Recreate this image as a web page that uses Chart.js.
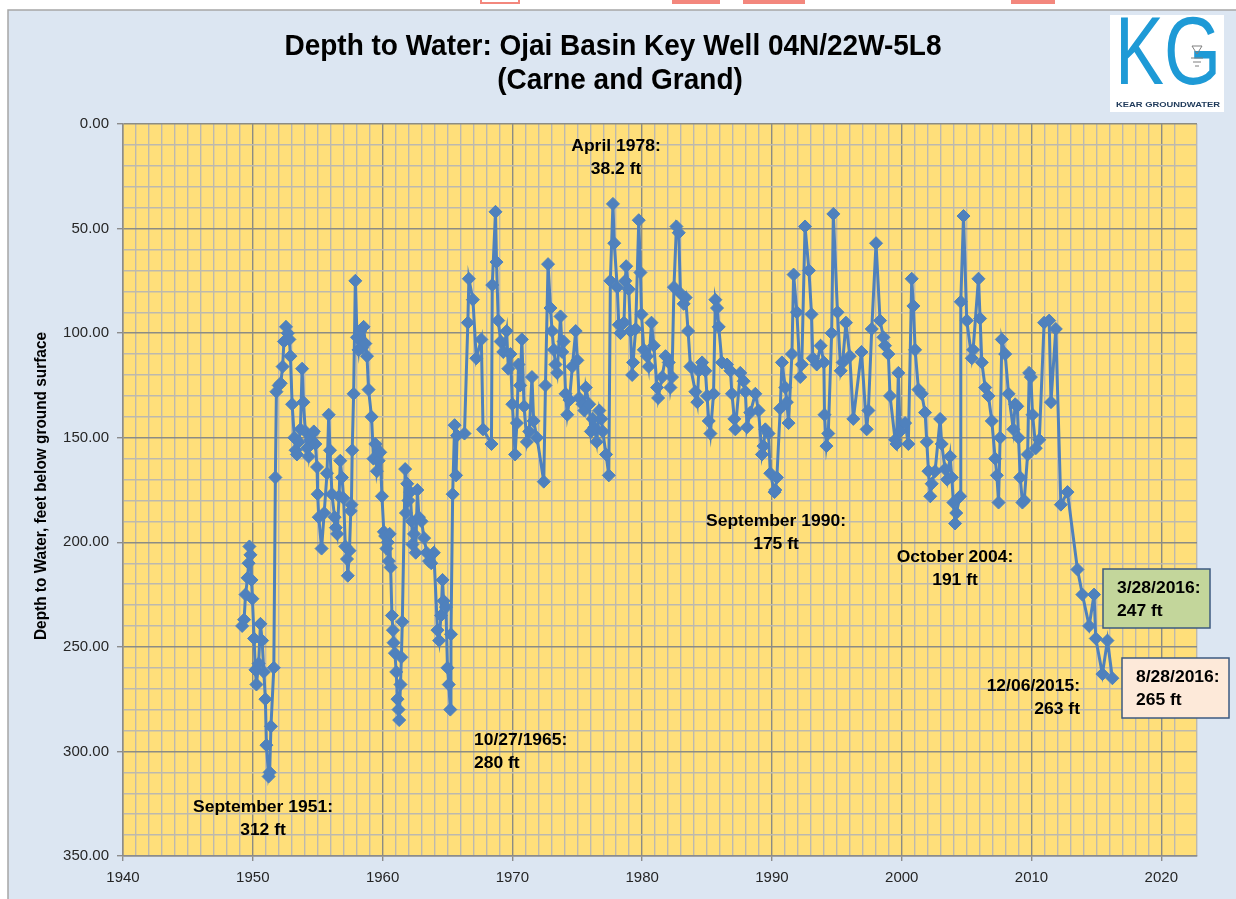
<!DOCTYPE html>
<html>
<head>
<meta charset="utf-8">
<script src="https://cdn.jsdelivr.net/npm/chart.js@4.4.0/dist/chart.umd.min.js"></script>
<style>
  html, body { margin: 0; padding: 0; background: #fff; }
  canvas { display: block; }
</style>
</head>
<body>
<canvas id="wellChart" width="1236" height="899"></canvas>
<script>
// measurement dates (decimal years) and depth to water (ft below ground surface)
const years = [
  1949.18, 1949.33, 1949.44, 1949.6, 1949.68, 1949.74, 1949.82, 1949.9, 1949.97, 1950.1,
  1950.2, 1950.28, 1950.45, 1950.59, 1950.72, 1950.85, 1950.97, 1951.05, 1951.22, 1951.3,
  1951.4, 1951.62, 1951.74, 1951.82, 1952.0, 1952.15, 1952.3, 1952.4, 1952.56, 1952.7,
  1952.82, 1952.9, 1953.03, 1953.2, 1953.3, 1953.4, 1953.55, 1953.67, 1953.8, 1953.9,
  1954.05, 1954.2, 1954.3, 1954.45, 1954.6, 1954.7, 1954.82, 1954.95, 1955.0, 1955.08,
  1955.3, 1955.5, 1955.72, 1955.85, 1955.95, 1956.1, 1956.3, 1956.4, 1956.5, 1956.65,
  1956.74, 1956.87, 1957.0, 1957.13, 1957.26, 1957.32, 1957.45, 1957.55, 1957.6, 1957.66,
  1957.77, 1957.9, 1958.03, 1958.15, 1958.28, 1958.42, 1958.54, 1958.67, 1958.8, 1958.92,
  1959.15, 1959.3, 1959.44, 1959.56, 1959.7, 1959.82, 1959.95, 1960.1, 1960.2, 1960.3,
  1960.4, 1960.48, 1960.55, 1960.62, 1960.72, 1960.8, 1960.85, 1960.95, 1961.05, 1961.15,
  1961.23, 1961.28, 1961.38, 1961.45, 1961.52, 1961.74, 1961.8, 1961.9, 1962.0, 1962.13,
  1962.25, 1962.3, 1962.42, 1962.55, 1962.68, 1962.8, 1963.0, 1963.2, 1963.4, 1963.58,
  1963.75, 1963.95, 1964.23, 1964.36, 1964.5, 1964.62, 1964.7, 1964.88, 1965.0, 1965.1,
  1965.22, 1965.27, 1965.4, 1965.55, 1965.66, 1965.74, 1966.31, 1966.57, 1966.65, 1966.96,
  1967.22, 1967.61, 1967.74, 1968.39, 1968.45, 1968.7, 1968.78, 1968.91, 1969.1, 1969.3,
  1969.56, 1969.69, 1969.85, 1970.0, 1970.21, 1970.35, 1970.47, 1970.6, 1970.73, 1970.9,
  1971.12, 1971.3, 1971.51, 1971.64, 1971.9, 1972.42, 1972.55, 1972.75, 1972.94, 1973.06,
  1973.2, 1973.32, 1973.45, 1973.71, 1973.84, 1973.95, 1974.1, 1974.23, 1974.4, 1974.62,
  1974.88, 1975.01, 1975.14, 1975.4, 1975.55, 1975.66, 1975.92, 1976.05, 1976.2, 1976.31,
  1976.5, 1976.7, 1976.85, 1976.96, 1977.22, 1977.43, 1977.55, 1977.75, 1977.85, 1978.08,
  1978.2, 1978.33, 1978.6, 1978.7, 1978.77, 1978.97, 1979.1, 1979.23, 1979.3, 1979.5,
  1979.74, 1979.87, 1979.95, 1980.13, 1980.38, 1980.5, 1980.72, 1980.9, 1981.15, 1981.23,
  1981.54, 1981.8, 1982.05, 1982.18, 1982.3, 1982.45, 1982.64, 1982.82, 1982.95, 1983.2,
  1983.35, 1983.54, 1983.72, 1984.1, 1984.25, 1984.36, 1984.62, 1984.87, 1985.0, 1985.13,
  1985.26, 1985.5, 1985.64, 1985.77, 1985.9, 1986.15, 1986.54, 1986.8, 1986.92, 1987.1,
  1987.18, 1987.56, 1987.82, 1987.95, 1988.08, 1988.33, 1988.72, 1988.97, 1989.23, 1989.35,
  1989.49, 1989.74, 1989.87, 1990.2, 1990.26, 1990.38, 1990.64, 1990.77, 1991.03, 1991.15,
  1991.28, 1991.54, 1991.67, 1991.92, 1992.18, 1992.3, 1992.55, 1992.85, 1993.05, 1993.15,
  1993.45, 1993.75, 1994.0, 1994.05, 1994.2, 1994.34, 1994.6, 1994.73, 1995.05, 1995.3,
  1995.45, 1995.7, 1996.0, 1996.27, 1996.9, 1997.3, 1997.43, 1997.69, 1998.02, 1998.33,
  1998.59, 1998.71, 1998.97, 1999.1, 1999.49, 1999.6, 1999.74, 1999.87, 2000.26, 2000.51,
  2000.77, 2000.9, 2001.03, 2001.29, 2001.54, 2001.8, 2001.93, 2002.06, 2002.2, 2002.31,
  2002.57, 2002.96, 2003.08, 2003.34, 2003.5, 2003.73, 2003.86, 2003.98, 2004.11, 2004.2,
  2004.5, 2004.55, 2004.76, 2005.01, 2005.4, 2005.5, 2005.91, 2006.04, 2006.17, 2006.43,
  2006.68, 2006.94, 2007.2, 2007.33, 2007.46, 2007.58, 2007.71, 2007.97, 2008.23, 2008.6,
  2008.74, 2008.9, 2009.0, 2009.13, 2009.3, 2009.44, 2009.7, 2009.82, 2009.95, 2010.08,
  2010.33, 2010.6, 2010.97, 2011.36, 2011.5, 2011.87, 2012.26, 2012.77, 2013.54, 2013.92,
  2014.44, 2014.82, 2014.95, 2015.46, 2015.85, 2016.23
];
const depths = [
  240, 237, 225, 217, 210, 202, 206, 218, 227, 246,
  261, 268, 258, 239, 247, 262, 275, 297, 312, 310,
  288, 260, 169, 128, 125, 124, 116, 104, 97, 100,
  103, 111, 134, 150, 156, 158, 152, 146, 117, 133,
  147, 155, 159, 151, 148, 147, 153, 164, 177, 188,
  203, 186, 167, 139, 156, 177, 188, 193, 196, 178,
  161, 169, 179, 202, 208, 216, 204, 185, 182, 156,
  129, 75, 102, 108, 99, 107, 97, 105, 111, 127,
  140, 160, 153, 166, 161, 157, 178, 195, 197, 203,
  200, 209, 196, 212, 235, 242, 248, 253, 262, 275,
  280, 285, 268, 255, 238, 165, 186, 172, 180, 176,
  190, 201, 196, 205, 175, 188, 190, 198, 205, 209,
  210, 205, 242, 247, 235, 218, 228, 231, 260, 268,
  280, 244, 177, 144, 168, 149, 148, 95, 74, 84,
  112, 103, 146, 153, 77, 42, 66, 94, 104, 109,
  99, 117, 110, 134, 158, 143, 115, 125, 103, 135,
  152, 147, 121, 142, 150, 171, 125, 67, 88, 99,
  108, 115, 119, 92, 109, 104, 129, 139, 132, 116,
  99, 113, 131, 134, 137, 126, 134, 147, 141, 145,
  152, 137, 141, 147, 158, 168, 75, 38.2, 57, 78,
  96, 100, 95, 75, 68, 79, 99, 120, 114, 98,
  46, 71, 91, 108, 111, 116, 95, 106, 126, 131,
  121, 111, 114, 126, 121, 78, 49, 52, 81, 86,
  83, 99, 116, 128, 133, 118, 114, 118, 130, 142,
  148, 129, 84, 88, 97, 114, 115, 118, 129, 141,
  146, 119, 123, 128, 145, 138, 129, 137, 158, 154,
  146, 148, 167, 176, 175, 169, 136, 114, 126, 133,
  143, 110, 72, 90, 121, 115, 49, 70, 91, 112,
  115, 106, 114, 139, 154, 148, 100, 43, 90, 118,
  114, 95, 111, 141, 109, 146, 137, 98, 57, 94,
  102, 106, 110, 130, 151, 153, 119, 147, 143, 153,
  74, 87, 108, 127, 129, 138, 152, 166, 178, 172,
  166, 141, 153, 165, 170, 159, 169, 181, 191, 186,
  178, 85, 44, 94, 112, 108, 74, 93, 114, 126,
  130, 142, 160, 168, 181, 150, 103, 110, 129, 146,
  134, 135, 150, 169, 181, 180, 158, 119, 121, 139,
  155, 151, 95, 94, 133, 98, 182, 176, 213, 225,
  240, 225, 246, 263, 247, 265
];

const xRange = [1940, 2022.75];
const yRange = [0, 350];
const majorX = 10;   // labelled year ticks
const majorY = 50;   // labelled depth ticks

const chartTitle = ['Depth to Water: Ojai Basin Key Well 04N/22W-5L8', '(Carne and Grand)'];
const yTitle = 'Depth to Water, feet below ground surface';

// free text callouts placed on the plot (pixel positions)
const callouts = [
  { lines: ['April 1978:', '38.2 ft'], x: 616, y: 146, align: 'center' },
  { lines: ['September 1990:', '175 ft'], x: 776, y: 521, align: 'center' },
  { lines: ['October 2004:', '191 ft'], x: 955, y: 557, align: 'center' },
  { lines: ['10/27/1965:', '280 ft'], x: 474, y: 740, align: 'left' },
  { lines: ['September 1951:', '312 ft'], x: 263, y: 807, align: 'center' },
  { lines: ['12/06/2015:', '263 ft'], x: 1080, y: 686, align: 'right' }
];
const boxes = [
  { lines: ['3/28/2016:', '247 ft'], x: 1103, y: 569, w: 107, h: 59, fill: '#c3d69b' },
  { lines: ['8/28/2016:', '265 ft'], x: 1122, y: 658, w: 107, h: 60, fill: '#fde9d9' }
];

const isMajor = (v, step) => Math.abs(v / step - Math.round(v / step)) < 1e-6;

function drawScaled(ctx, str, x, y, font, sx, align) {
    ctx.save();
    ctx.font = font;
    ctx.textAlign = align;
    ctx.textBaseline = 'middle';
    ctx.translate(x, y);
    ctx.scale(sx, 1);
    ctx.fillText(str, 0, 0);
    ctx.restore();
}

function widthOf(ctx, str, font) {
    ctx.save();
    ctx.font = font;
    const w = ctx.measureText(str).width;
    ctx.restore();
    return w;
}

const backdrop = {
    id: 'backdrop',
    beforeDraw(chart) {
        const { ctx, chartArea: a } = chart;
        ctx.save();
        ctx.fillStyle = '#ffffff';
        ctx.fillRect(0, 0, chart.width, chart.height);
        ctx.fillStyle = '#dce6f2';
        ctx.fillRect(8, 10, chart.width - 8, chart.height - 10);
        ctx.strokeStyle = '#a6a6a6';
        ctx.lineWidth = 1.5;
        ctx.beginPath();
        ctx.moveTo(8, chart.height);
        ctx.lineTo(8, 10);
        ctx.lineTo(chart.width, 10);
        ctx.stroke();
        // clipped red shapes along the top edge
        ctx.fillStyle = '#f3877d';
        ctx.fillRect(672, 0, 48, 4);
        ctx.fillRect(743, 0, 62, 4);
        ctx.fillRect(1011, 0, 44, 4);
        ctx.strokeStyle = '#f3877d';
        ctx.lineWidth = 2;
        ctx.strokeRect(481, -2, 38, 5);
        // plot area fill
        ctx.fillStyle = '#ffdf7a';
        ctx.fillRect(a.left, a.top, a.right - a.left, a.bottom - a.top);
        ctx.restore();
    }
};

function drawLogo(ctx) {
    ctx.fillStyle = '#ffffff';
    ctx.fillRect(1110, 15, 114, 97);
    const lf = '96px "Liberation Sans", Arial, sans-serif';
    const lsx = 106 / widthOf(ctx, 'KG', lf);
    ctx.fillStyle = '#1e9ad6';
    drawScaled(ctx, 'KG', 1115, 58, lf, lsx, 'left');
    // small water level mark inside the G
    ctx.strokeStyle = '#7f7f7f';
    ctx.lineWidth = 1;
    ctx.beginPath();
    ctx.moveTo(1192, 46); ctx.lineTo(1202, 46); ctx.lineTo(1197, 54); ctx.closePath();
    ctx.stroke();
    ctx.beginPath();
    ctx.moveTo(1191, 58); ctx.lineTo(1203, 58);
    ctx.moveTo(1193, 62); ctx.lineTo(1201, 62);
    ctx.moveTo(1195, 66); ctx.lineTo(1199, 66);
    ctx.stroke();
    ctx.fillStyle = '#1f3a5a';
    const kf = 'bold 7px "Liberation Sans", Arial, sans-serif';
    drawScaled(ctx, 'KEAR GROUNDWATER', 1116, 105, kf, 104 / widthOf(ctx, 'KEAR GROUNDWATER', kf), 'left');
}

const labels = {
    id: 'labels',
    afterDraw(chart) {
        const ctx = chart.ctx;
        ctx.save();
        ctx.fillStyle = '#000';

        // chart title
        const tf = 'bold 30px "Liberation Sans", Arial, sans-serif';
        const tsx = 657 / widthOf(ctx, chartTitle[0], tf);
        drawScaled(ctx, chartTitle[0], 613, 47, tf, tsx, 'center');
        drawScaled(ctx, chartTitle[1], 620, 81, tf, tsx, 'center');

        // axis title
        const yf = 'bold 16px "Liberation Sans", Arial, sans-serif';
        const ysx = 308 / widthOf(ctx, yTitle, yf);
        ctx.save();
        ctx.translate(42, 486);
        ctx.rotate(-Math.PI / 2);
        drawScaled(ctx, yTitle, 0, 0, yf, ysx, 'center');
        ctx.restore();

        // callouts
        const cf = 'bold 17px "Liberation Sans", Arial, sans-serif';
        const csx = 140 / widthOf(ctx, 'September 1990:', cf);
        callouts.forEach(c => {
            c.lines.forEach((ln, i) => drawScaled(ctx, ln, c.x, c.y + i * 23.5, cf, csx, c.align));
        });

        boxes.forEach(b => {
            ctx.fillStyle = b.fill;
            ctx.fillRect(b.x, b.y, b.w, b.h);
            ctx.strokeStyle = '#3d5a80';
            ctx.lineWidth = 1.5;
            ctx.strokeRect(b.x, b.y, b.w, b.h);
            ctx.fillStyle = '#000';
            b.lines.forEach((ln, i) => drawScaled(ctx, ln, b.x + 14, b.y + 19 + i * 23.5, cf, csx, 'left'));
        });

        drawLogo(ctx);
        ctx.restore();
    }
};

const gridColor = step => c => isMajor(c.tick.value, step) ? '#8c8c84' : '#bdb9ae';
const tickColor = step => c => isMajor(c.tick.value, step) ? '#8c8c8c' : 'rgba(0,0,0,0)';

new Chart(document.getElementById('wellChart'), {
    type: 'line',
    data: {
        datasets: [{
            data: years.map((x, i) => ({ x: x, y: depths[i] })),
            borderColor: '#4f81bd',
            backgroundColor: '#4f81bd',
            borderWidth: 3,
            pointStyle: 'rectRot',
            pointRadius: 6.5,
            pointBorderWidth: 1,
            tension: 0
        }]
    },
    options: {
        responsive: false,
        animation: false,
        devicePixelRatio: 1,
        layout: { padding: { top: 124, right: 39, left: 0, bottom: 0 } },
        plugins: { legend: { display: false }, tooltip: { enabled: false } },
        scales: {
            x: {
                type: 'linear',
                min: xRange[0],
                max: xRange[1],
                afterFit(axis) { axis.height = 43; },
                ticks: {
                    stepSize: 1,
                    autoSkip: false,
                    maxRotation: 0,
                    padding: 8,
                    color: '#262626',
                    font: { family: 'Liberation Sans', size: 15 },
                    callback: v => isMajor(v, majorX) ? String(Math.round(v)) : ''
                },
                grid: { color: gridColor(majorX), lineWidth: 1.4, tickLength: 5, tickColor: tickColor(majorX) },
                border: { color: '#8c8c8c', width: 1.5 }
            },
            y: {
                reverse: true,
                min: yRange[0],
                max: yRange[1],
                afterFit(axis) { axis.width = 123; },
                ticks: {
                    stepSize: 10,
                    autoSkip: false,
                    padding: 8,
                    color: '#262626',
                    font: { family: 'Liberation Sans', size: 15 },
                    callback: v => isMajor(v, majorY) ? v.toFixed(2) : ''
                },
                grid: { color: gridColor(majorY), lineWidth: 1.4, tickLength: 6, tickColor: tickColor(majorY) },
                border: { color: '#8c8c8c', width: 1.5 }
            }
        }
    },
    plugins: [backdrop, labels]
});
</script>
</body>
</html>
